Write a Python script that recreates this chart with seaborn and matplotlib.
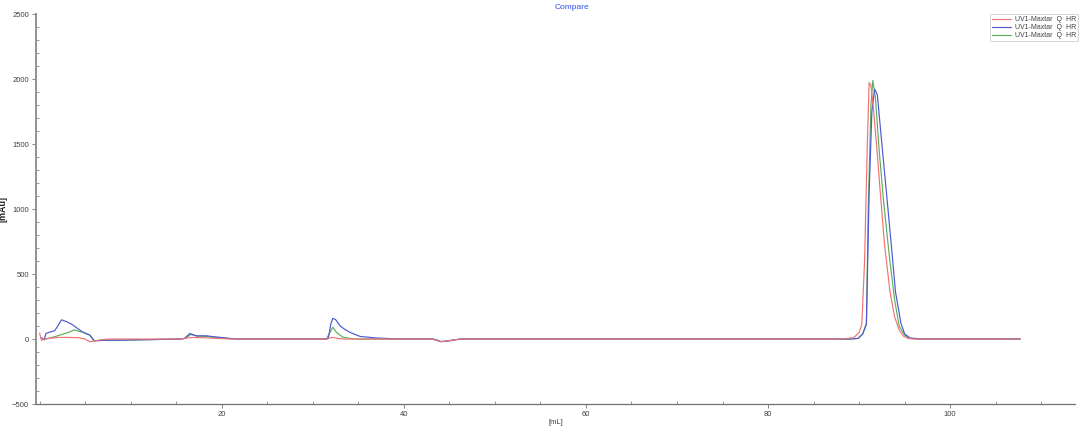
import matplotlib
matplotlib.use('Agg')
import matplotlib.pyplot as plt
import seaborn as sns
from matplotlib.ticker import FixedLocator, MultipleLocator

sns.set_style('white')
plt.rcParams['font.family'] = ['Liberation Sans', 'DejaVu Sans']

# volumes [mL] and absorbance [mAu]
red_ml = [0.0, 0.2, 0.5, 1.0, 2.0, 3.0, 4.3, 5.0, 5.5, 6.0, 6.5, 7.5,
          15.5, 16.2, 16.8, 18.0, 19.5, 21.0, 31.5, 31.9, 32.2, 32.7, 33.5,
          43.0, 43.5, 44.1, 45.0, 46.2, 88.0, 89.4, 90.0, 90.3, 90.6, 90.9,
          91.1, 91.3, 91.6, 92.0, 92.3, 92.8, 93.4, 93.9, 94.4, 94.9, 95.4, 96.0, 107.7]
red_mau = [45, -10, 0, 5, 12, 13, 10, 0, -20, -15, -8, 0,
           0, 8, 12, 10, 5, 0, 0, 8, 13, 5, 0,
           0, -8, -20, -12, 0, 0, 10, 50, 115, 600, 1500,
           1973, 1950, 1750, 1420, 1150, 720, 360, 170, 70, 20, 5, 0, 0]

blue_ml = [0.2, 0.5, 0.7, 1.2, 1.65, 2.0, 2.4, 2.9, 3.5, 4.2, 4.8, 5.5, 6.0, 7.0, 9.3,
           15.5, 15.9, 16.5, 17.2, 18.3, 19.5, 21.6, 31.5, 31.7, 32.0, 32.2, 32.5,
           33.0, 33.5, 34.1, 35.2, 37.0, 39.6, 43.2, 43.7, 44.1, 44.8, 46.2,
           89.0, 89.9, 90.4, 90.8, 91.1, 91.4, 91.7, 92.0, 92.5, 93.0, 93.5, 94.0,
           94.6, 95.0, 95.6, 97.0, 107.7]
blue_mau = [10, -5, 43, 55, 64, 100, 148, 135, 115, 80, 51, 31, -13, -10, -8,
            0, 5, 43, 25, 25, 15, 0, 0, 5, 120, 159, 150,
            102, 75, 51, 20, 8, 0, 0, -10, -20, -15, 0,
            0, 5, 40, 120, 1127, 1750, 1923, 1880, 1500, 1127, 750, 360,
            120, 40, 8, 0, 0]

green_ml = [0.5, 0.7, 1.5, 2.6, 3.3, 3.8, 4.3, 4.8, 5.5, 6.0, 7.0, 9.3,
            15.5, 16.0, 16.6, 17.3, 18.3, 19.5, 21.6, 31.5, 31.8, 32.2, 32.6, 33.3, 34.5,
            43.2, 43.7, 44.1, 44.8, 46.2, 89.0, 89.9, 90.4, 90.8, 91.0, 91.3, 91.5,
            91.8, 92.2, 92.7, 93.3, 93.9, 94.4, 95.0, 95.5, 97.0, 107.7]
green_mau = [-5, 0, 15, 38, 55, 71, 60, 51, 31, -13, -10, -8,
             0, 5, 35, 22, 20, 12, 0, 0, 40, 90, 51, 15, 0,
             0, -10, -20, -15, 0, 0, 5, 40, 110, 1000, 1800, 1990,
             1850, 1450, 1050, 650, 300, 100, 30, 5, 0, 0]

label = 'UV1-Maxtar  Q  HR'

fig = plt.figure(figsize=(10.8, 4.28), dpi=100)
ax = fig.add_axes([0.0333, 0.056, 0.962, 0.911])

sns.lineplot(x=red_ml, y=red_mau, ax=ax, color='#f07272', lw=0.85, label=label,
             estimator=None, sort=False, zorder=4)
sns.lineplot(x=blue_ml, y=blue_mau, ax=ax, color='#4c58d4', lw=0.85, label=label,
             estimator=None, sort=False, zorder=3)
sns.lineplot(x=green_ml, y=green_mau, ax=ax, color='#5fae5f', lw=0.85, label=label,
             estimator=None, sort=False, zorder=2)

ax.set_xlim(-0.4, 113.7)
ax.set_ylim(-500, 2500)
ax.xaxis.set_major_locator(FixedLocator([20, 40, 60, 80, 100]))
ax.xaxis.set_minor_locator(MultipleLocator(5))
ax.yaxis.set_major_locator(MultipleLocator(500))
ax.yaxis.set_minor_locator(MultipleLocator(100))
ax.tick_params(which='major', direction='out', length=3, width=0.6, colors='#707070',
               labelsize=5.5, labelcolor='#404040', pad=2)
ax.tick_params(which='minor', direction='in', length=2.5, width=0.5, colors='#707070')
ax.tick_params(axis='x', which='both', bottom=True)
ax.tick_params(axis='y', which='both', left=True)

for s in ['top', 'right']:
    ax.spines[s].set_visible(False)
ax.spines['left'].set_color('#909090')
ax.spines['left'].set_linewidth(1.4)
ax.spines['bottom'].set_color('#707070')
ax.spines['bottom'].set_linewidth(0.9)

ax.set_xlabel('[mL]', fontsize=5.5, color='#404040', labelpad=1)
ax.set_ylabel('[mAu]', fontsize=6.5, fontweight='bold', color='#202020')
ax.yaxis.set_label_coords(-0.027, 0.5)
ax.set_title('Compare', fontsize=6, color='#3050f0', pad=4, x=0.516)

leg = ax.legend(loc='upper right', bbox_to_anchor=(1.003, 1.0), fontsize=5,
                frameon=True, fancybox=False, handlelength=2.6, handletextpad=0.6,
                borderpad=0.3, labelspacing=0.15, borderaxespad=0)
leg.get_frame().set_edgecolor('#c0c0c0')
leg.get_frame().set_linewidth(0.6)
for t in leg.get_texts():
    t.set_color('#404040')

fig.savefig('out.png', dpi=100)
